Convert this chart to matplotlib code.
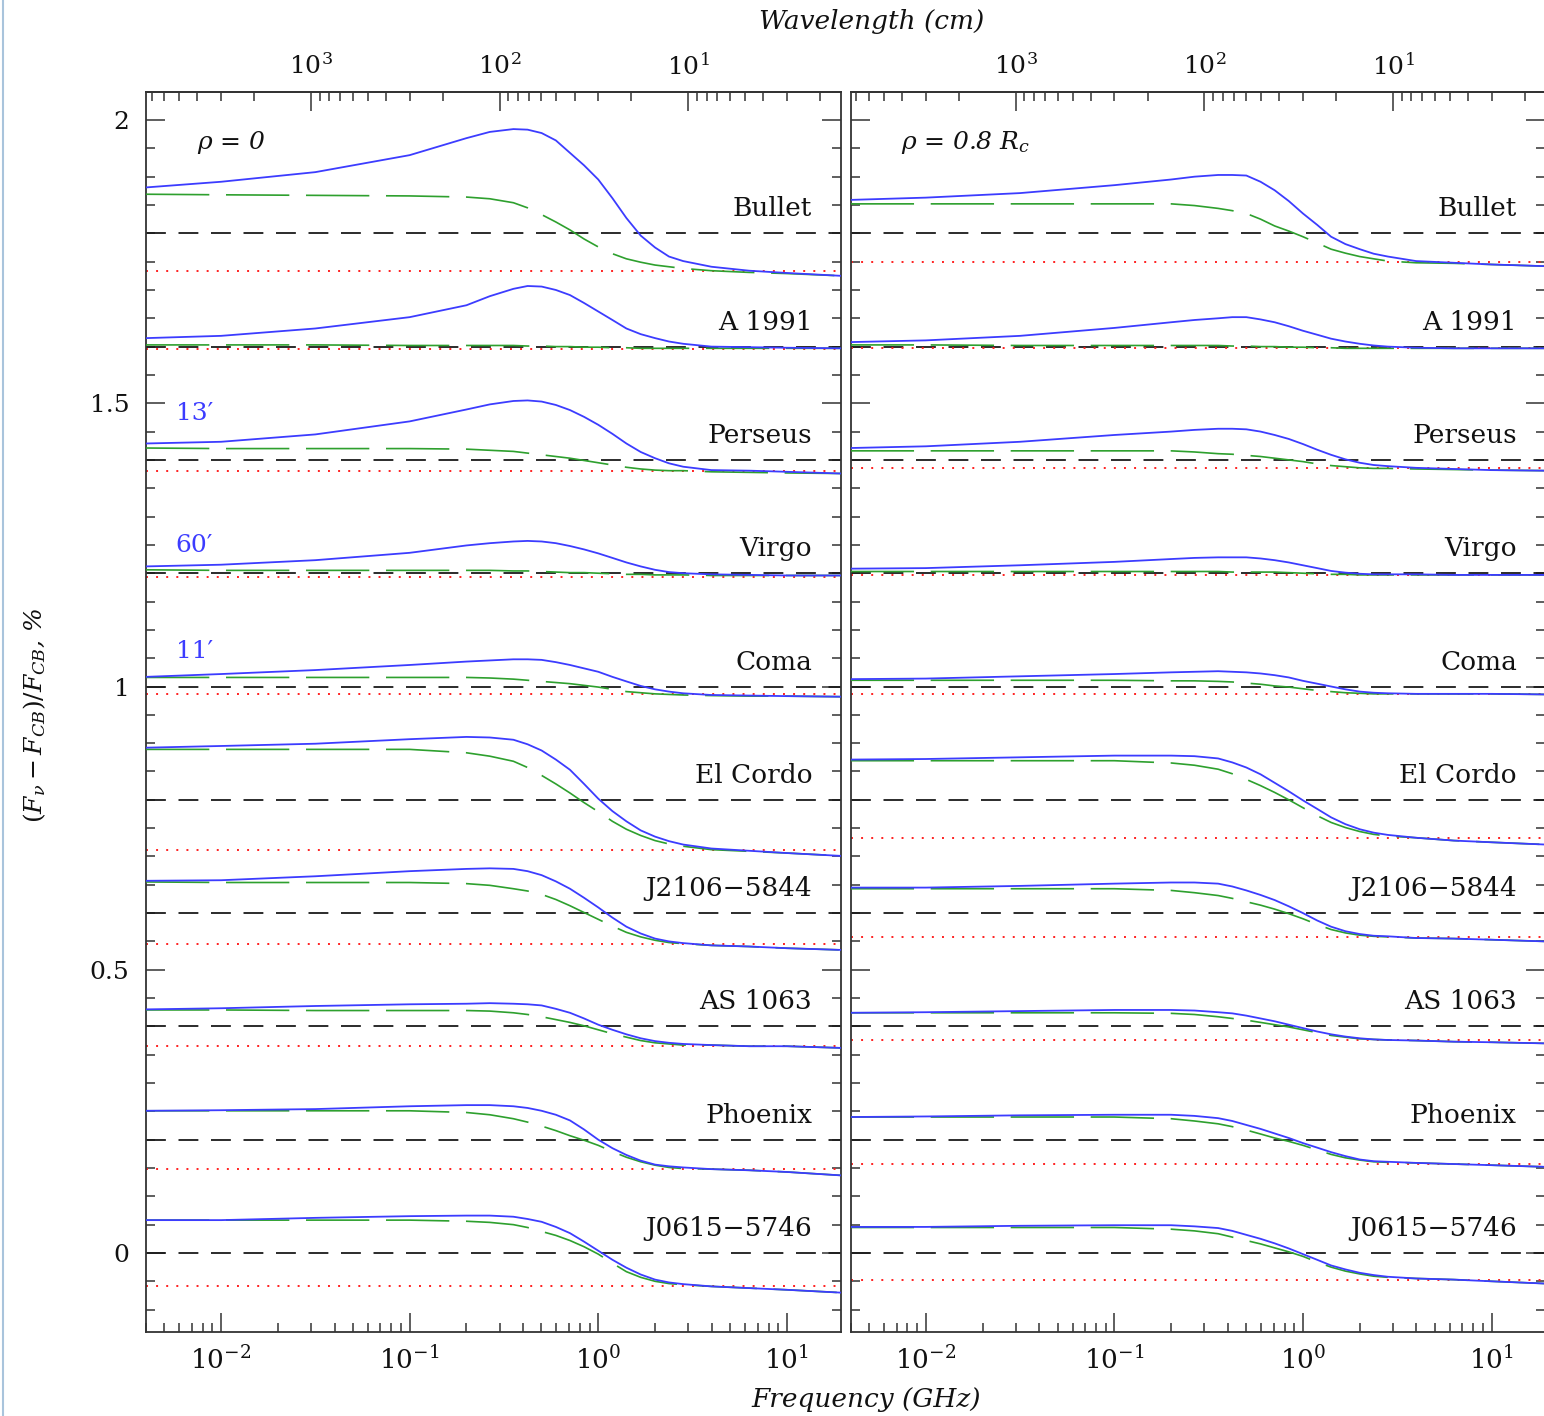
import numpy as np
import matplotlib
matplotlib.use("Agg")
import matplotlib.pyplot as plt
import matplotlib.transforms as mtransforms
from matplotlib.lines import Line2D
from matplotlib.ticker import (LogLocator, FixedLocator, MultipleLocator,
                               NullFormatter, FuncFormatter)

plt.rcParams["font.family"] = "DejaVu Serif"
plt.rcParams["mathtext.fontset"] = "dejavuserif"

# -------------------------------------------------------------------------
# Data
# -------------------------------------------------------------------------
FREQ_GHZ = [0.004, 0.01, 0.0316, 0.1, 0.2, 0.266, 0.355, 0.422, 0.501, 0.596,
            0.708, 0.841, 1.0, 1.189, 1.41, 1.679, 2.0, 2.371, 2.82, 3.98,
            6.31, 10.0, 19.3]

CLUSTERS = ["Bullet", "A 1991", "Perseus", "Virgo", "Coma", "El Cordo",
            "J2106\u22125844", "AS 1063", "Phoenix", "J0615\u22125746"]
OFFSETS = [1.8, 1.6, 1.4, 1.2, 1.0, 0.8, 0.6, 0.4, 0.2, 0.0]

# rho = 0 panel
BLUE_LEFT = [
    [1.881, 1.891, 1.908, 1.938, 1.968, 1.979, 1.984, 1.983, 1.977, 1.964, 1.942, 1.920, 1.895, 1.862, 1.827, 1.796, 1.775, 1.759, 1.751, 1.741, 1.734, 1.730, 1.725],
    [1.615, 1.619, 1.632, 1.652, 1.673, 1.689, 1.702, 1.707, 1.706, 1.700, 1.691, 1.677, 1.662, 1.647, 1.632, 1.622, 1.615, 1.609, 1.605, 1.600, 1.599, 1.598, 1.597],
    [1.429, 1.432, 1.445, 1.468, 1.489, 1.498, 1.504, 1.505, 1.503, 1.497, 1.488, 1.476, 1.462, 1.446, 1.429, 1.414, 1.403, 1.394, 1.388, 1.382, 1.381, 1.379, 1.376],
    [1.212, 1.215, 1.223, 1.236, 1.249, 1.253, 1.256, 1.257, 1.256, 1.253, 1.248, 1.242, 1.235, 1.227, 1.219, 1.212, 1.206, 1.202, 1.200, 1.198, 1.197, 1.196, 1.196],
    [1.017, 1.022, 1.029, 1.038, 1.044, 1.046, 1.048, 1.048, 1.047, 1.043, 1.038, 1.032, 1.026, 1.017, 1.009, 1.001, 0.995, 0.991, 0.988, 0.985, 0.984, 0.983, 0.982],
    [0.892, 0.895, 0.899, 0.907, 0.911, 0.910, 0.906, 0.898, 0.887, 0.871, 0.853, 0.828, 0.802, 0.780, 0.762, 0.746, 0.735, 0.727, 0.721, 0.714, 0.710, 0.706, 0.701],
    [0.657, 0.658, 0.665, 0.674, 0.678, 0.679, 0.678, 0.674, 0.667, 0.656, 0.643, 0.627, 0.610, 0.592, 0.576, 0.564, 0.555, 0.550, 0.547, 0.543, 0.541, 0.538, 0.535],
    [0.430, 0.432, 0.436, 0.439, 0.440, 0.441, 0.440, 0.439, 0.437, 0.431, 0.424, 0.414, 0.403, 0.394, 0.386, 0.379, 0.374, 0.371, 0.369, 0.367, 0.365, 0.365, 0.362],
    [0.251, 0.252, 0.254, 0.259, 0.261, 0.261, 0.259, 0.256, 0.251, 0.244, 0.234, 0.218, 0.200, 0.185, 0.173, 0.163, 0.156, 0.153, 0.151, 0.148, 0.146, 0.143, 0.137],
    [0.058, 0.058, 0.062, 0.065, 0.066, 0.066, 0.064, 0.060, 0.055, 0.046, 0.035, 0.020, 0.004, -0.012, -0.026, -0.038, -0.047, -0.052, -0.055, -0.059, -0.062, -0.065, -0.070],
]
GREEN_LEFT = [
    [1.869, 1.868, 1.867, 1.866, 1.864, 1.861, 1.854, 1.845, 1.833, 1.820, 1.806, 1.790, 1.776, 1.764, 1.755, 1.749, 1.744, 1.741, 1.738, 1.734, 1.731, 1.729, 1.725],
    [1.603, 1.603, 1.603, 1.602, 1.602, 1.602, 1.602, 1.601, 1.601, 1.600, 1.600, 1.599, 1.599, 1.598, 1.598, 1.597, 1.597, 1.597, 1.597, 1.597, 1.597, 1.597, 1.597],
    [1.421, 1.420, 1.420, 1.420, 1.419, 1.417, 1.415, 1.412, 1.409, 1.406, 1.403, 1.399, 1.395, 1.391, 1.387, 1.384, 1.382, 1.381, 1.381, 1.379, 1.378, 1.377, 1.376],
    [1.206, 1.205, 1.205, 1.205, 1.205, 1.205, 1.204, 1.204, 1.203, 1.202, 1.201, 1.201, 1.200, 1.199, 1.198, 1.198, 1.197, 1.197, 1.197, 1.196, 1.196, 1.196, 1.196],
    [1.016, 1.016, 1.016, 1.016, 1.016, 1.015, 1.013, 1.011, 1.009, 1.007, 1.005, 1.002, 0.999, 0.995, 0.991, 0.989, 0.987, 0.986, 0.985, 0.984, 0.983, 0.983, 0.982],
    [0.889, 0.889, 0.889, 0.889, 0.883, 0.877, 0.868, 0.857, 0.843, 0.828, 0.812, 0.795, 0.779, 0.762, 0.748, 0.737, 0.728, 0.722, 0.718, 0.712, 0.709, 0.706, 0.701],
    [0.655, 0.654, 0.654, 0.654, 0.652, 0.649, 0.643, 0.639, 0.633, 0.624, 0.613, 0.601, 0.589, 0.577, 0.566, 0.558, 0.552, 0.548, 0.546, 0.543, 0.541, 0.538, 0.535],
    [0.429, 0.429, 0.428, 0.428, 0.428, 0.427, 0.424, 0.421, 0.417, 0.412, 0.407, 0.401, 0.394, 0.387, 0.381, 0.375, 0.371, 0.369, 0.367, 0.367, 0.365, 0.365, 0.362],
    [0.251, 0.251, 0.251, 0.251, 0.248, 0.244, 0.237, 0.231, 0.224, 0.216, 0.207, 0.199, 0.190, 0.179, 0.169, 0.161, 0.155, 0.151, 0.149, 0.148, 0.146, 0.143, 0.137],
    [0.058, 0.058, 0.058, 0.058, 0.056, 0.054, 0.050, 0.045, 0.038, 0.031, 0.022, 0.011, -0.002, -0.018, -0.033, -0.043, -0.050, -0.054, -0.056, -0.059, -0.062, -0.065, -0.070],
]
RED_LEFT = [1.734, 1.596, 1.381, 1.194, 0.986, 0.712, 0.545, 0.366, 0.148, -0.059]

# rho = 0.8 Rc panel
BLUE_RIGHT = [
    [1.859, 1.863, 1.871, 1.885, 1.895, 1.900, 1.903, 1.903, 1.902, 1.891, 1.876, 1.857, 1.835, 1.815, 1.794, 1.781, 1.772, 1.764, 1.759, 1.751, 1.748, 1.745, 1.742],
    [1.608, 1.611, 1.619, 1.633, 1.643, 1.647, 1.650, 1.652, 1.652, 1.648, 1.643, 1.636, 1.628, 1.621, 1.614, 1.609, 1.605, 1.602, 1.600, 1.598, 1.597, 1.597, 1.597],
    [1.421, 1.424, 1.432, 1.444, 1.450, 1.453, 1.455, 1.455, 1.454, 1.450, 1.444, 1.437, 1.428, 1.418, 1.409, 1.401, 1.395, 1.391, 1.389, 1.386, 1.384, 1.382, 1.381],
    [1.208, 1.209, 1.214, 1.220, 1.225, 1.227, 1.228, 1.228, 1.228, 1.226, 1.223, 1.219, 1.214, 1.209, 1.204, 1.201, 1.199, 1.198, 1.198, 1.198, 1.197, 1.197, 1.197],
    [1.013, 1.014, 1.018, 1.022, 1.025, 1.026, 1.027, 1.026, 1.025, 1.023, 1.020, 1.016, 1.010, 1.005, 1.000, 0.995, 0.991, 0.989, 0.988, 0.987, 0.987, 0.987, 0.986],
    [0.871, 0.872, 0.875, 0.878, 0.878, 0.877, 0.873, 0.866, 0.857, 0.845, 0.830, 0.815, 0.799, 0.784, 0.769, 0.757, 0.748, 0.742, 0.738, 0.733, 0.728, 0.725, 0.721],
    [0.645, 0.645, 0.648, 0.652, 0.654, 0.654, 0.652, 0.647, 0.640, 0.632, 0.623, 0.612, 0.600, 0.587, 0.576, 0.568, 0.563, 0.560, 0.559, 0.556, 0.555, 0.553, 0.550],
    [0.424, 0.425, 0.427, 0.429, 0.429, 0.428, 0.425, 0.423, 0.419, 0.414, 0.409, 0.403, 0.397, 0.391, 0.386, 0.382, 0.379, 0.377, 0.376, 0.375, 0.373, 0.372, 0.370],
    [0.240, 0.241, 0.243, 0.244, 0.244, 0.242, 0.238, 0.233, 0.226, 0.219, 0.211, 0.203, 0.194, 0.186, 0.178, 0.171, 0.165, 0.162, 0.161, 0.159, 0.157, 0.155, 0.152],
    [0.046, 0.046, 0.048, 0.049, 0.049, 0.047, 0.044, 0.039, 0.032, 0.025, 0.017, 0.008, -0.002, -0.012, -0.022, -0.029, -0.035, -0.039, -0.042, -0.045, -0.047, -0.050, -0.054],
]
GREEN_RIGHT = [
    [1.852, 1.852, 1.852, 1.852, 1.852, 1.849, 1.844, 1.840, 1.835, 1.825, 1.813, 1.804, 1.794, 1.783, 1.772, 1.765, 1.759, 1.755, 1.751, 1.748, 1.747, 1.745, 1.742],
    [1.603, 1.603, 1.602, 1.602, 1.602, 1.602, 1.602, 1.601, 1.601, 1.600, 1.600, 1.599, 1.599, 1.598, 1.598, 1.597, 1.597, 1.597, 1.597, 1.597, 1.597, 1.597, 1.597],
    [1.416, 1.416, 1.416, 1.416, 1.416, 1.414, 1.411, 1.410, 1.408, 1.406, 1.403, 1.400, 1.397, 1.393, 1.390, 1.388, 1.386, 1.385, 1.385, 1.384, 1.383, 1.382, 1.381],
    [1.203, 1.203, 1.203, 1.203, 1.203, 1.203, 1.203, 1.202, 1.202, 1.202, 1.202, 1.201, 1.200, 1.199, 1.198, 1.198, 1.197, 1.197, 1.197, 1.197, 1.197, 1.197, 1.197],
    [1.011, 1.011, 1.011, 1.011, 1.010, 1.010, 1.009, 1.008, 1.006, 1.004, 1.001, 0.999, 0.996, 0.993, 0.991, 0.989, 0.988, 0.987, 0.987, 0.987, 0.987, 0.987, 0.986],
    [0.869, 0.869, 0.869, 0.869, 0.865, 0.861, 0.854, 0.846, 0.836, 0.825, 0.813, 0.800, 0.786, 0.772, 0.760, 0.751, 0.744, 0.739, 0.736, 0.733, 0.728, 0.725, 0.721],
    [0.643, 0.643, 0.643, 0.643, 0.640, 0.636, 0.631, 0.626, 0.620, 0.614, 0.607, 0.599, 0.590, 0.580, 0.571, 0.565, 0.561, 0.559, 0.558, 0.556, 0.555, 0.553, 0.550],
    [0.424, 0.424, 0.424, 0.424, 0.423, 0.421, 0.417, 0.414, 0.411, 0.407, 0.403, 0.399, 0.394, 0.389, 0.384, 0.381, 0.378, 0.377, 0.376, 0.375, 0.373, 0.372, 0.370],
    [0.240, 0.240, 0.240, 0.240, 0.237, 0.233, 0.228, 0.223, 0.217, 0.210, 0.203, 0.197, 0.190, 0.182, 0.174, 0.168, 0.164, 0.161, 0.160, 0.159, 0.157, 0.155, 0.152],
    [0.045, 0.045, 0.045, 0.045, 0.042, 0.039, 0.034, 0.028, 0.022, 0.016, 0.009, 0.002, -0.006, -0.016, -0.025, -0.032, -0.037, -0.041, -0.043, -0.045, -0.047, -0.050, -0.054],
]
RED_RIGHT = [1.750, 1.597, 1.386, 1.196, 0.987, 0.732, 0.557, 0.376, 0.157, -0.047]

# beam sizes marked on the left panel
BEAM_LABELS = ["13\u2032", "60\u2032", "11\u2032"]
BEAM_Y = [1.470, 1.237, 1.050]

WAVE_TICKS_CM = [10, 100, 1000]

# -------------------------------------------------------------------------
# Style
# -------------------------------------------------------------------------
W, H = 1544, 1416
C_BLUE = "#3c3cff"
C_GREEN = "#2ea02e"
C_RED = "#ff2020"
C_BLACK = "#1a1a1a"
C_AXIS = "#333333"

XLIM = (0.004, 19.3)
YLIM = (-0.1395, 2.050)


def nu_to_lam(nu):
    nu = np.asarray(nu, dtype=float)
    return 30.0 / np.clip(nu, 1e-12, None)


fig = plt.figure(figsize=(W / 100, H / 100), dpi=100)
fig.patch.set_facecolor("white")

ax_w = (840.7 - 146.0) / W
ax_b = (H - 1332.0) / H
ax_h = (1332.0 - 91.7) / H
ax_left = fig.add_axes([146.0 / W, ax_b, ax_w, ax_h])
ax_right = fig.add_axes([850.7 / W, ax_b, ax_w, ax_h])

panels = [
    (ax_left, BLUE_LEFT, GREEN_LEFT, RED_LEFT, r"$\rho$ = 0", True),
    (ax_right, BLUE_RIGHT, GREEN_RIGHT, RED_RIGHT, r"$\rho$ = 0.8 $R_c$", False),
]

for ax, blue, green, red, tag, show_y in panels:
    ax.set_xscale("log")
    ax.set_xlim(*XLIM)
    ax.set_ylim(*YLIM)

    for i, off in enumerate(OFFSETS):
        ax.axhline(off, color=C_BLACK, lw=1.3, ls=(0, (11, 7)), zorder=2)
        ax.axhline(red[i], color=C_RED, lw=1.4, ls=(0, (1.0, 4.2)), zorder=2)
        ax.plot(FREQ_GHZ, green[i], color=C_GREEN, lw=1.2, ls=(0, (38, 10)), zorder=3)
        ax.plot(FREQ_GHZ, blue[i], color=C_BLUE, lw=1.3, zorder=4)

    trans = mtransforms.blended_transform_factory(ax.transAxes, ax.transData)
    for name, off in zip(CLUSTERS, OFFSETS):
        ax.text(0.959, off + 0.030, name, transform=trans, ha="right",
                va="baseline", fontsize=19, color="#111111")

    ax.text(0.073, 1.948, tag, transform=trans, ha="left", va="baseline",
            fontsize=18, style="italic", color="#111111")

    # ticks
    ax.xaxis.set_major_locator(LogLocator(base=10))
    ax.xaxis.set_minor_locator(LogLocator(base=10, subs=np.arange(2, 10)))
    ax.xaxis.set_minor_formatter(NullFormatter())
    ax.yaxis.set_major_locator(MultipleLocator(0.5))
    ax.yaxis.set_minor_locator(MultipleLocator(0.05))
    ax.yaxis.set_major_formatter(FuncFormatter(lambda v, p: f"{v:g}"))
    ax.tick_params(which="both", direction="in", top=False, right=True,
                   color=C_AXIS, width=1.1)
    ax.tick_params(which="major", length=13.5)
    ax.tick_params(which="minor", length=6.2)
    ax.tick_params(axis="x", which="major", pad=10, labelsize=19, labelcolor="#111111")
    ax.tick_params(axis="y", which="major", pad=12, labelsize=18, labelcolor="#111111",
                   labelleft=show_y)
    for sp in ax.spines.values():
        sp.set_color(C_AXIS)
        sp.set_linewidth(1.3)

    # wavelength axis on top
    sec = ax.secondary_xaxis("top", functions=(nu_to_lam, nu_to_lam))
    sec.xaxis.set_major_locator(FixedLocator(WAVE_TICKS_CM))
    sec.xaxis.set_major_formatter(
        FuncFormatter(lambda v, p: r"$10^{%d}$" % round(np.log10(v))))
    sec.xaxis.set_minor_locator(LogLocator(base=10, subs=np.arange(2, 10)))
    sec.xaxis.set_minor_formatter(NullFormatter())
    sec.tick_params(which="both", direction="in", color=C_AXIS, width=1.1)
    sec.tick_params(which="major", length=13.5, pad=9, labelsize=18, labelcolor="#111111")
    sec.tick_params(which="minor", length=6.2)
    sec.spines["top"].set_color(C_AXIS)
    sec.spines["top"].set_linewidth(1.3)

# beam size labels (left panel only)
trans_l = mtransforms.blended_transform_factory(ax_left.transAxes, ax_left.transData)
for lab, yv in zip(BEAM_LABELS, BEAM_Y):
    ax_left.text(0.043, yv, lab, transform=trans_l, ha="left", va="baseline",
                 fontsize=18, color=C_BLUE)

# axis titles
fig.text(0.561, 0.0113, "Frequency (GHz)", ha="center", va="center",
         fontsize=19, style="italic", color="#111111")
fig.text(0.5648, 0.9845, "Wavelength (cm)", ha="center", va="center",
         fontsize=19, style="italic", color="#111111")
fig.text(0.0227, 0.495, r"$(F_{\nu} - F_{CB})/F_{CB}$, %", ha="center",
         va="center", rotation=90, fontsize=18, style="italic", color="#111111")

# thin frame line at the left edge of the picture
fig.add_artist(Line2D([3.0 / W, 3.0 / W], [0, 1], color="#a9c4dc", lw=1.5))

fig.savefig("out.png", dpi=100, facecolor="white")
plt.close(fig)
